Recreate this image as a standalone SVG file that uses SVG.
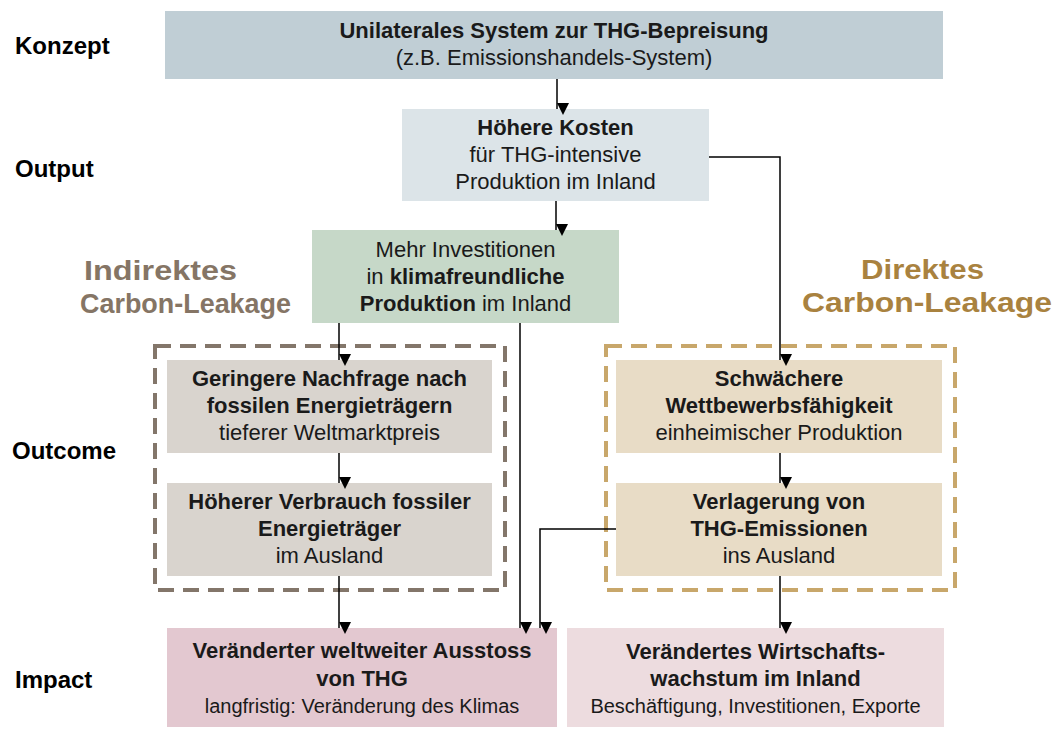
<svg xmlns="http://www.w3.org/2000/svg" width="1059" height="729" viewBox="0 0 1059 729">
<style>
text{font-family:"Liberation Sans",Arial,sans-serif;fill:#1a1a1a;text-anchor:middle;font-size:22px}
.b{font-weight:bold}
.lbl{font-weight:bold;font-size:24px;text-anchor:start;fill:#000}
.s{font-size:20px}
.ind{font-weight:bold;font-size:28px;fill:#857565;text-anchor:start}
.dir{font-weight:bold;font-size:28px;fill:#a9823f;text-anchor:start}
.conn{fill:none;stroke:#000;stroke-width:1.5}
.dash{fill:none;stroke-width:4;stroke-dasharray:16 9}
</style>
<defs>
<marker id="ah" markerUnits="userSpaceOnUse" markerWidth="12" markerHeight="12" viewBox="0 0 12 12" refX="6" refY="12" orient="auto-start-reverse">
<path d="M0,0 L12,0 L6,12 Z" fill="#000" transform="rotate(-90 6 6)"/>
</marker>
</defs>
<rect width="1059" height="729" fill="#fff"/>

<g id="labels">
<text class="lbl" x="15" y="54">Konzept</text>
<text class="lbl" x="15" y="177">Output</text>
<text class="lbl" x="12" y="459">Outcome</text>
<text class="lbl" x="15" y="688">Impact</text>
<text class="ind" x="84" y="280" textLength="153" lengthAdjust="spacingAndGlyphs">Indirektes</text>
<text class="ind" x="80" y="313" textLength="211" lengthAdjust="spacingAndGlyphs">Carbon-Leakage</text>
<text class="dir" x="861" y="279" textLength="123" lengthAdjust="spacingAndGlyphs">Direktes</text>
<text class="dir" x="802" y="312" textLength="250" lengthAdjust="spacingAndGlyphs">Carbon-Leakage</text>
</g>

<g id="dashed-groups">
<rect class="dash" x="155" y="346" width="350" height="244" stroke="#83766a"/>
<rect class="dash" x="606" y="346" width="349" height="244" stroke="#c8a76b"/>
</g>

<g id="n-konzept">
<rect x="165" y="11" width="778" height="68" fill="#c0ced5"/>
<text class="b" x="554" y="38">Unilaterales System zur THG-Bepreisung</text>
<text x="554" y="65">(z.B. Emissionshandels-System)</text>
</g>

<g id="n-kosten">
<rect x="402" y="109" width="307" height="92" fill="#dce4e8"/>
<text class="b" x="555.5" y="135">Höhere Kosten</text>
<text x="555.5" y="162">für THG-intensive</text>
<text x="555.5" y="189">Produktion im Inland</text>
</g>

<g id="n-invest">
<rect x="312" y="230" width="307" height="93" fill="#c6d8c8"/>
<text x="465.5" y="257">Mehr Investitionen</text>
<text x="465.5" y="284">in <tspan class="b">klimafreundliche</tspan></text>
<text x="465.5" y="311"><tspan class="b">Produktion</tspan> im Inland</text>
</g>

<g id="n-nachfrage">
<rect x="167" y="360" width="325" height="93" fill="#d9d4ce"/>
<text class="b" x="329.5" y="386">Geringere Nachfrage nach</text>
<text class="b" x="329.5" y="413">fossilen Energieträgern</text>
<text x="329.5" y="440">tieferer Weltmarktpreis</text>
</g>

<g id="n-verbrauch">
<rect x="167" y="483" width="325" height="93" fill="#d9d4ce"/>
<text class="b" x="329.5" y="509">Höherer Verbrauch fossiler</text>
<text class="b" x="329.5" y="536">Energieträger</text>
<text x="329.5" y="563">im Ausland</text>
</g>

<g id="n-wettbewerb">
<rect x="616" y="360" width="326" height="93" fill="#e8dcc6"/>
<text class="b" x="779" y="386">Schwächere</text>
<text class="b" x="779" y="413">Wettbewerbsfähigkeit</text>
<text x="779" y="440">einheimischer Produktion</text>
</g>

<g id="n-verlagerung">
<rect x="616" y="483" width="326" height="93" fill="#e8dcc6"/>
<text class="b" x="779" y="509">Verlagerung von</text>
<text class="b" x="779" y="536">THG-Emissionen</text>
<text x="779" y="563">ins Ausland</text>
</g>

<g id="n-ausstoss">
<rect x="167" y="628" width="390" height="99" fill="#e3c8d0"/>
<text class="b" x="362" y="658">Veränderter weltweiter Ausstoss</text>
<text class="b" x="362" y="686">von THG</text>
<text class="s" x="362" y="713">langfristig: Veränderung des Klimas</text>
</g>

<g id="n-wachstum">
<rect x="567" y="628" width="377" height="99" fill="#eddcdf"/>
<text class="b" x="755.5" y="659">Verändertes Wirtschafts-</text>
<text class="b" x="755.5" y="686">wachstum im Inland</text>
<text class="s" x="755.5" y="713">Beschäftigung, Investitionen, Exporte</text>
</g>

<g id="connectors">
<path class="conn" d="M557,79 V109" marker-end="url(#ah)"/>
<path class="conn" d="M556,201 V230" marker-end="url(#ah)"/>
<path class="conn" d="M709,157 H780 V360" marker-end="url(#ah)"/>
<path class="conn" d="M339,323 V360" marker-end="url(#ah)"/>
<path class="conn" d="M520,323 V628" marker-end="url(#ah)"/>
<path class="conn" d="M339,453 V483" marker-end="url(#ah)"/>
<path class="conn" d="M339,576 V628" marker-end="url(#ah)"/>
<path class="conn" d="M780,453 V483" marker-end="url(#ah)"/>
<path class="conn" d="M616,529 H540 V628" marker-end="url(#ah)"/>
<path class="conn" d="M780,576 V628" marker-end="url(#ah)"/>
</g>
</svg>
